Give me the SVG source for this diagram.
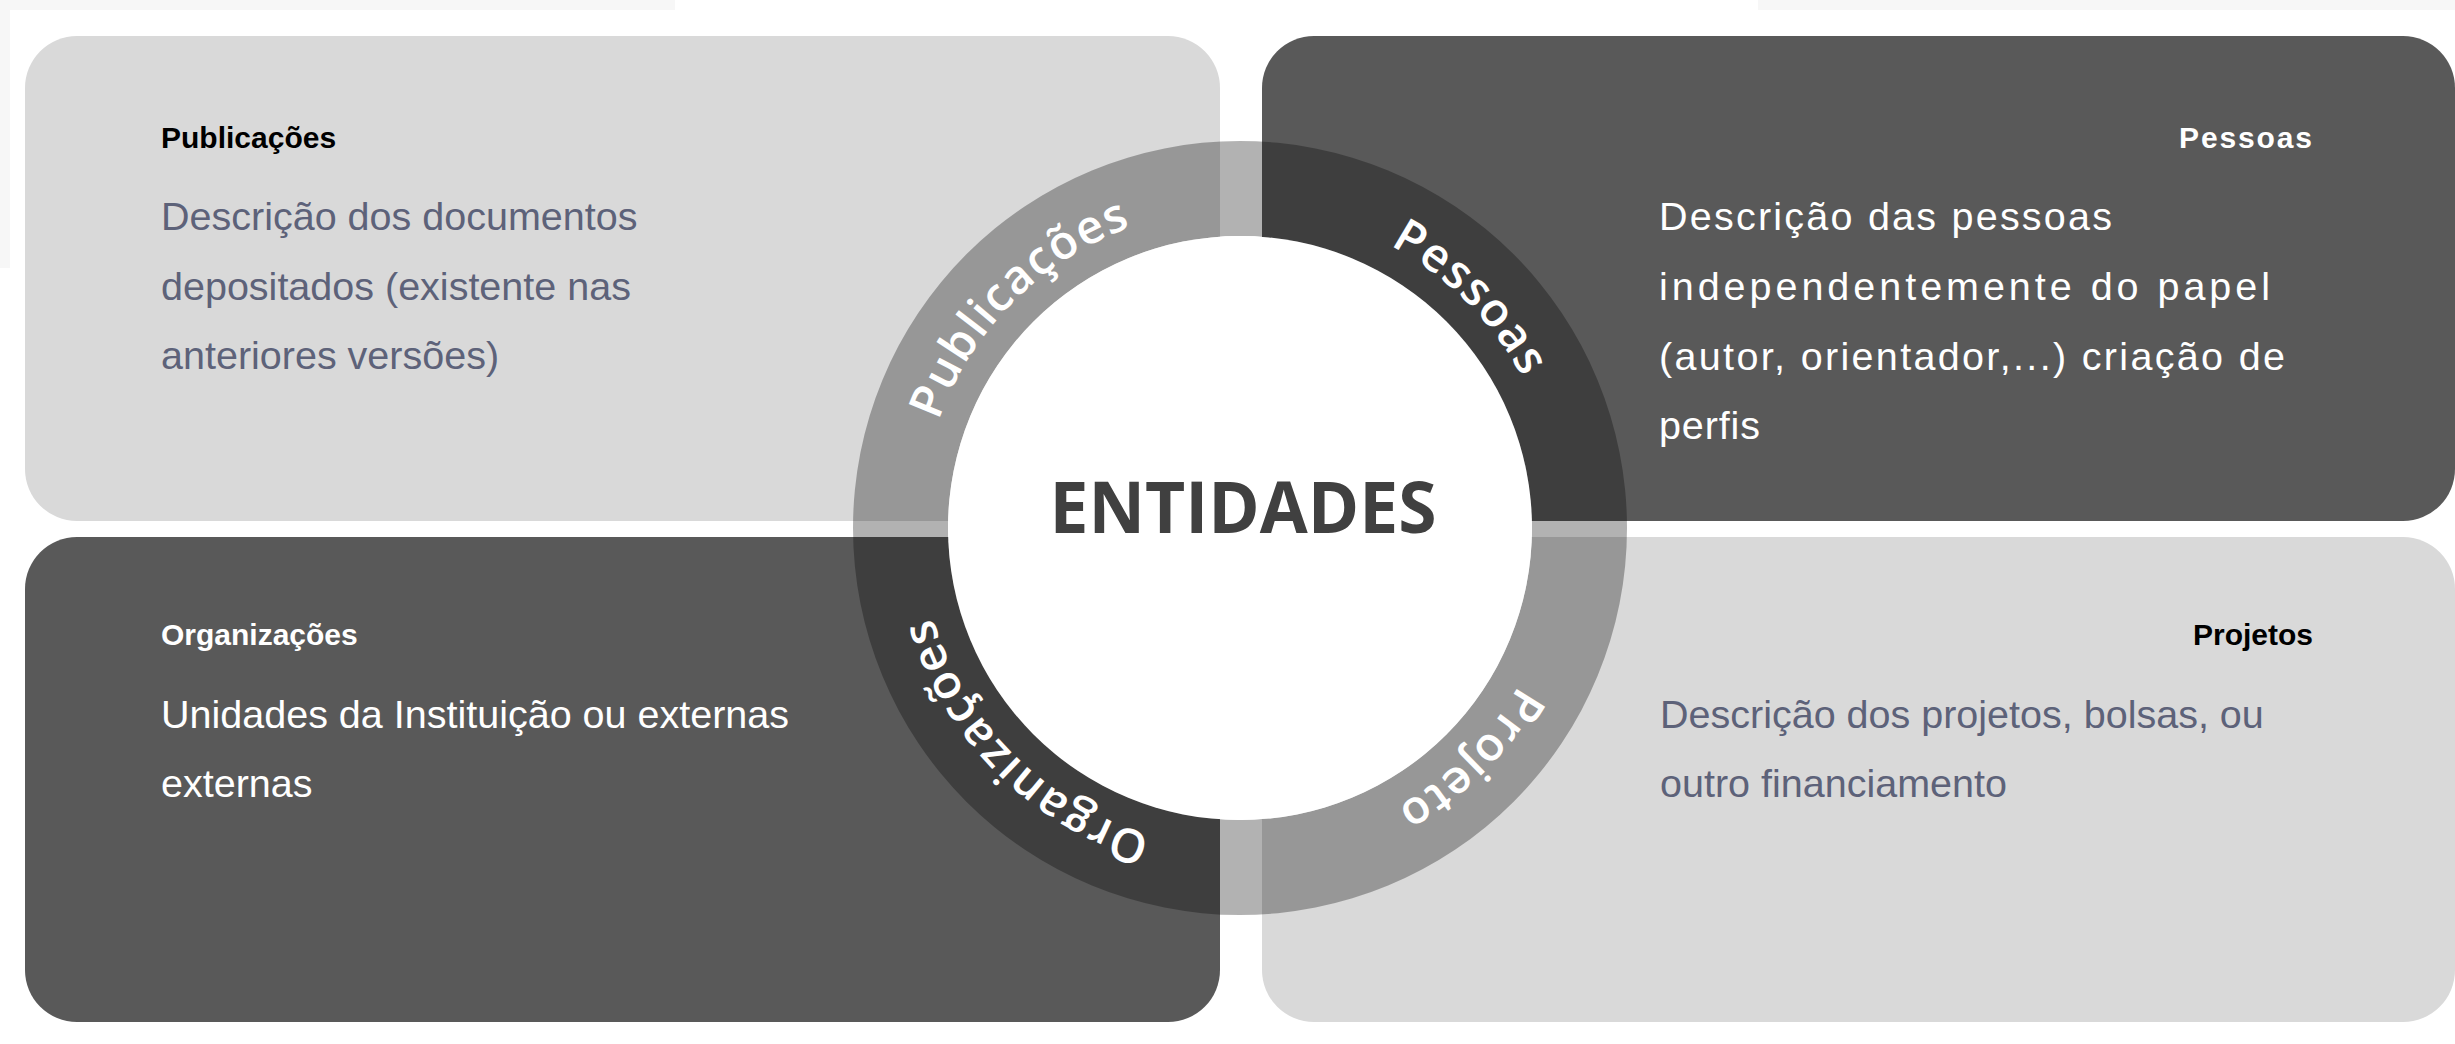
<svg xmlns="http://www.w3.org/2000/svg" width="2455" height="1044" viewBox="0 0 2455 1044">
<style>
  .box-light { fill: #d9d9d9; }
  .box-dark { fill: #595959; }
  .title { font-family: "Liberation Sans", Arial, sans-serif; font-weight: 700; font-size: 30px; }
  .desc { font-family: "Liberation Sans", Arial, sans-serif; font-size: 39.5px; }
  .on-light-title { fill: #000000; }
  .on-light-desc { fill: #5d6279; }
  .on-dark { fill: #ffffff; }
  .ring-label { font-family: "Open Sans", "Liberation Sans", sans-serif; font-weight: 600; font-size: 47px; letter-spacing: 1.5px; fill: #ffffff; }
  .center-label { font-family: "Open Sans", "Liberation Sans", sans-serif; font-weight: 700; font-size: 72px; fill: #404040; }
</style>
<defs>
  <path id="ringPath" d="M 920 528 A 320 320 0 1 1 1560 528 A 320 320 0 1 1 920 528"/>
</defs>

<rect x="0" y="0" width="2455" height="1044" fill="#ffffff"/>
<rect x="0" y="0" width="675" height="10" fill="#f7f7f7"/>
<rect x="1758" y="0" width="697" height="10" fill="#f7f7f7"/>
<rect x="0" y="10" width="10" height="258" fill="#f7f7f7"/>

<g id="publicacoes">
  <rect class="box-light" x="25" y="36" width="1195" height="485" rx="52" ry="52"/>
  <text class="title on-light-title" x="161" y="148">Publicações</text>
  <text class="desc on-light-desc" x="161" y="230">Descrição dos documentos</text>
  <text class="desc on-light-desc" x="161" y="300">depositados (existente nas</text>
  <text class="desc on-light-desc" x="161" y="369">anteriores versões)</text>
</g>

<g id="pessoas">
  <rect class="box-dark" x="1262" y="36" width="1193" height="485" rx="52" ry="52"/>
  <text class="title on-dark" x="2179" y="148" textLength="133" lengthAdjust="spacing">Pessoas</text>
  <text class="desc on-dark" x="1659" y="230" textLength="453" lengthAdjust="spacing">Descrição das pessoas</text>
  <text class="desc on-dark" x="1659" y="300" textLength="611" lengthAdjust="spacing">independentemente do papel</text>
  <text class="desc on-dark" x="1659" y="370" textLength="626" lengthAdjust="spacing">(autor, orientador,...) criação de</text>
  <text class="desc on-dark" x="1659" y="439" textLength="101" lengthAdjust="spacing">perfis</text>
</g>

<g id="organizacoes">
  <rect class="box-dark" x="25" y="537" width="1195" height="485" rx="52" ry="52"/>
  <text class="title on-dark" x="161" y="645">Organizações</text>
  <text class="desc on-dark" x="161" y="728">Unidades da Instituição ou externas</text>
  <text class="desc on-dark" x="161" y="797">externas</text>
</g>

<g id="projetos">
  <rect class="box-light" x="1262" y="537" width="1193" height="485" rx="52" ry="52"/>
  <text class="title on-light-title" x="2313" y="645" text-anchor="end">Projetos</text>
  <text class="desc on-light-desc" x="1660" y="728">Descrição dos projetos, bolsas, ou</text>
  <text class="desc on-light-desc" x="1660" y="797">outro financiamento</text>
</g>

<g id="entidades">
  <path d="M 853 528 A 387 387 0 1 1 1627 528 A 387 387 0 1 1 853 528 Z M 948 528 A 292 292 0 1 0 1532 528 A 292 292 0 1 0 948 528 Z" fill="#000000" fill-opacity="0.3" fill-rule="evenodd"/>
  <circle cx="1240" cy="528" r="292" fill="#ffffff"/>
  <text class="center-label" x="1243" y="533" text-anchor="middle" textLength="387" lengthAdjust="spacingAndGlyphs">ENTIDADES</text>
  <text class="ring-label" text-anchor="middle"><textPath href="#ringPath" startOffset="251">Publicações</textPath></text>
  <text class="ring-label" text-anchor="middle"><textPath href="#ringPath" startOffset="754">Pessoas</textPath></text>
  <text class="ring-label" text-anchor="middle"><textPath href="#ringPath" startOffset="1257">Projeto</textPath></text>
  <text class="ring-label" text-anchor="middle"><textPath href="#ringPath" startOffset="1759">Organizações</textPath></text>
</g>

<g id="connectors"/>
</svg>
